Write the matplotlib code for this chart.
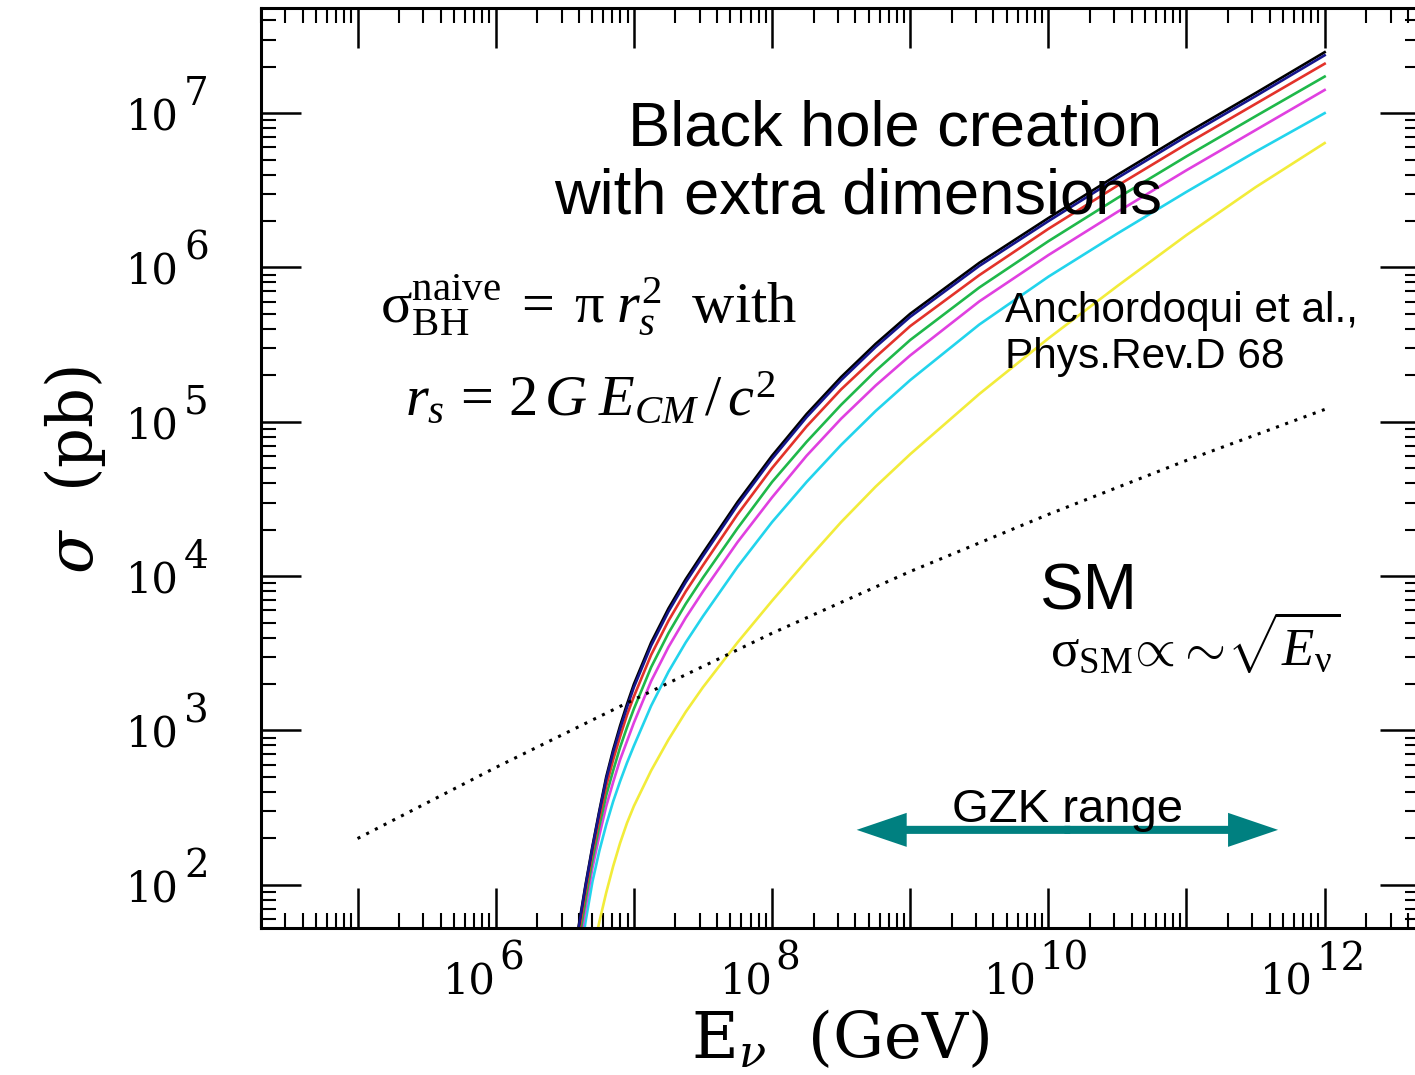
import matplotlib
matplotlib.use("Agg")
import numpy as np
import matplotlib.pyplot as plt
from matplotlib.ticker import LogLocator, NullFormatter
from matplotlib.patches import FancyArrowPatch, ArrowStyle

plt.rcParams["mathtext.fontset"] = "custom"
plt.rcParams["mathtext.rm"] = "Liberation Serif"
plt.rcParams["mathtext.it"] = "Liberation Serif:italic"
plt.rcParams["mathtext.bf"] = "Liberation Serif:bold"

W, H, DPI = 1415, 1075, 100

# Neutrino energy grid for the black-hole curves, log10(E / GeV)
log_energy = [6.55, 6.60, 6.65, 6.70, 6.75, 6.80, 6.85, 6.90, 6.95, 7.00,
              7.125, 7.25, 7.375, 7.50, 7.75, 8.00, 8.25, 8.50, 8.75, 9.00,
              9.50, 10.0, 10.5, 11.0, 11.5, 12.0]

# Black-hole production cross sections, log10(sigma / pb)
log_sigma_black = [1.45, 1.73, 2.00, 2.25, 2.48, 2.70, 2.875, 3.03, 3.17, 3.30,
                   3.57, 3.79, 3.98, 4.15, 4.48, 4.78, 5.05, 5.29, 5.505, 5.70,
                   6.03, 6.32, 6.60, 6.87, 7.13, 7.395]
log_sigma_navy = [1.43, 1.72, 1.99, 2.24, 2.47, 2.685, 2.86, 3.01, 3.15, 3.28,
                  3.55, 3.77, 3.96, 4.13, 4.46, 4.76, 5.03, 5.27, 5.485, 5.68,
                  6.01, 6.30, 6.58, 6.85, 7.11, 7.375]
log_sigma_red = [1.36, 1.68, 1.955, 2.21, 2.43, 2.64, 2.81, 2.96, 3.10, 3.22,
                 3.49, 3.71, 3.90, 4.07, 4.40, 4.70, 4.97, 5.21, 5.42, 5.62,
                 5.95, 6.25, 6.53, 6.80, 7.06, 7.32]
log_sigma_green = [1.27, 1.62, 1.90, 2.16, 2.38, 2.58, 2.74, 2.89, 3.02, 3.14,
                   3.41, 3.63, 3.82, 3.99, 4.31, 4.61, 4.87, 5.11, 5.33, 5.53,
                   5.87, 6.17, 6.45, 6.72, 6.98, 7.237]
log_sigma_magenta = [1.17, 1.56, 1.85, 2.11, 2.32, 2.51, 2.665, 2.81, 2.93, 3.05,
                     3.32, 3.54, 3.73, 3.90, 4.22, 4.51, 4.78, 5.02, 5.235, 5.43,
                     5.78, 6.08, 6.36, 6.63, 6.89, 7.15]
log_sigma_cyan = [1.00, 1.45, 1.76, 2.02, 2.22, 2.39, 2.54, 2.67, 2.79, 2.90,
                  3.16, 3.38, 3.57, 3.74, 4.06, 4.35, 4.61, 4.85, 5.07, 5.27,
                  5.63, 5.94, 6.22, 6.49, 6.75, 7.00]
log_sigma_yellow = [0.30, 0.70, 1.05, 1.55, 1.76, 1.95, 2.12, 2.27, 2.40, 2.51,
                    2.74, 2.94, 3.12, 3.28, 3.57, 3.84, 4.10, 4.35, 4.58, 4.79,
                    5.18, 5.54, 5.88, 6.21, 6.52, 6.806]

# Standard Model neutrino-nucleon cross section
log_energy_sm = [5, 6, 7, 8, 9, 10, 11, 12]
log_sigma_sm = [2.30, 2.76, 3.20, 3.63, 4.03, 4.40, 4.75, 5.08]

# GZK energy window (GeV) and height of the arrow (pb)
gzk_energy = (4.1e8, 4.6e11)
gzk_sigma = 227.0

x_label_exponents = [6, 8, 10, 12]
y_label_exponents = [2, 3, 4, 5, 6, 7]

curves = [
    (log_sigma_yellow, "#f2ec3a"),
    (log_sigma_cyan, "#22d4ec"),
    (log_sigma_magenta, "#e040e0"),
    (log_sigma_green, "#1fb84a"),
    (log_sigma_red, "#e3322a"),
    (log_sigma_black, "#000000"),
    (log_sigma_navy, "#16168c"),
]

fig = plt.figure(figsize=(W / DPI, H / DPI), dpi=DPI)
fig.patch.set_facecolor("white")


def fx(px):
    return px / W


def fy(py):
    return 1 - py / H


ax = fig.add_axes([fx(261), fy(928), (1420 - 261) / W, (928 - 8) / H])
ax.set_xscale("log")
ax.set_yscale("log")
ax.set_xlim(2.0e4, 4.9e12)
ax.set_ylim(52.5, 4.8e7)

e_bh = 10 ** np.array(log_energy)
for values, color in curves:
    ax.plot(e_bh, 10 ** np.array(values), color=color, lw=1.9,
            solid_joinstyle="round")

ax.plot(10 ** np.array(log_energy_sm), 10 ** np.array(log_sigma_sm),
        color="black", lw=2.2, linestyle=(0, (1.0, 2.2)))

# ticks: inward on all four sides
ax.xaxis.set_major_locator(LogLocator(base=10, numticks=30))
ax.yaxis.set_major_locator(LogLocator(base=10, numticks=30))
ax.xaxis.set_minor_locator(LogLocator(base=10, subs=np.arange(2, 10), numticks=30))
ax.yaxis.set_minor_locator(LogLocator(base=10, subs=np.arange(2, 10), numticks=30))
ax.xaxis.set_minor_formatter(NullFormatter())
ax.yaxis.set_minor_formatter(NullFormatter())
ax.tick_params(which="both", direction="in", top=True, right=True,
               labelbottom=False, labelleft=False, color="black")
ax.tick_params(which="major", length=28.5, width=1.8)
ax.tick_params(which="minor", length=10.8, width=1.5)
for sp in ax.spines.values():
    sp.set_linewidth(2.2)

tick_font = dict(family="DejaVu Serif", color="black")
renderer = fig.canvas.get_renderer()
PT = 72.0 / DPI  # points per pixel

# y tick labels: "10" with a raised exponent
for e in y_label_exponents:
    ax.annotate("10", xy=(0, 10.0 ** e), xycoords=ax.get_yaxis_transform(),
                xytext=(-82 * PT, -4.5 * PT), textcoords="offset points",
                ha="right", va="center", fontsize=30, **tick_font)
    ax.annotate(str(e), xy=(0, 10.0 ** e), xycoords=ax.get_yaxis_transform(),
                xytext=(-77 * PT, 0), textcoords="offset points",
                ha="left", va="bottom", fontsize=28, **tick_font)

# x tick labels: composite label centred a little left of the tick
for e in x_label_exponents:
    base = ax.annotate("10", xy=(10.0 ** e, 0), xycoords=ax.get_xaxis_transform(),
                       xytext=(0, 0), textcoords="offset points",
                       ha="left", va="top", fontsize=30, **tick_font)
    sup = ax.annotate(str(e), xy=(10.0 ** e, 0), xycoords=ax.get_xaxis_transform(),
                      xytext=(0, 0), textcoords="offset points",
                      ha="left", va="top", fontsize=28, **tick_font)
    wb = base.get_window_extent(renderer).width
    we = sup.get_window_extent(renderer).width
    gap = 3
    left = -12 - (wb + gap + we) / 2
    base.set_position((left * PT, -33 * PT))
    sup.set_position(((left + wb + gap) * PT, -13 * PT))

# axis titles
fig.text(fx(75), fy(470), r"$\sigma$  (pb)", rotation=90, ha="center", va="center",
         fontsize=45, family="DejaVu Serif", math_fontfamily="dejavuserif")
fig.text(fx(840), fy(1058), r"E$_{\nu}$  (GeV)", ha="center", va="baseline",
         fontsize=46, family="DejaVu Serif", math_fontfamily="dejavuserif")

# annotations
sans = dict(family="Liberation Sans", color="black")
fig.text(fx(1162), fy(145), "Black hole creation", ha="right", va="baseline",
         fontsize=45.5, **sans)
fig.text(fx(1162), fy(213), "with extra dimensions", ha="right", va="baseline",
         fontsize=45.5, **sans)
fig.text(fx(1005), fy(322), "Anchordoqui et al.,", ha="left", va="baseline",
         fontsize=30.5, **sans)
fig.text(fx(1005), fy(368), "Phys.Rev.D 68", ha="left", va="baseline",
         fontsize=30.5, **sans)
fig.text(fx(1040), fy(610), "SM", ha="left", va="baseline", fontsize=47, **sans)
fig.text(fx(952), fy(822), "GZK range", ha="left", va="baseline", fontsize=34, **sans)

serif = dict(family="Liberation Serif", color="black")
fig.text(fx(380), fy(322),
         r"$\mathrm{σ}_{\mathrm{BH}}^{\mathrm{naive}}\;=\;\mathrm{π}\;r_{s}^{2}$  with",
         ha="left", va="baseline", fontsize=42, **serif)
fig.text(fx(405), fy(415), r"$r_{s}\,=\,2\,G\;E_{CM}\,/\,c^{2}$",
         ha="left", va="baseline", fontsize=42, **serif)

# Standard Model scaling, written in two pieces so the root sits right after "~"
sm_left = fig.text(fx(1050), fy(666),
                   r"$\mathrm{σ}_{\mathrm{SM}}\!\propto\!\sim$",
                   ha="left", va="baseline", fontsize=38, **serif)
sm_left_box = sm_left.get_window_extent(renderer)
fig.text((sm_left_box.x1 + 2) / W, fy(666), r"$\sqrt{E_{\mathrm{ν}}}$",
         ha="left", va="baseline", fontsize=38, **serif)

# double-headed GZK arrow, built from two filled arrows meeting in the middle
teal = "#008080"
mid = np.sqrt(gzk_energy[0] * gzk_energy[1])
style = ArrowStyle("Simple", head_length=36, head_width=24.5, tail_width=5.8)
for tip, start in ((gzk_energy[0], mid * 1.05), (gzk_energy[1], mid / 1.05)):
    ax.add_patch(FancyArrowPatch((start, gzk_sigma), (tip, gzk_sigma),
                                 arrowstyle=style, mutation_scale=1,
                                 color=teal, lw=0, shrinkA=0, shrinkB=0))

fig.savefig("out.png", dpi=DPI, facecolor="white")
